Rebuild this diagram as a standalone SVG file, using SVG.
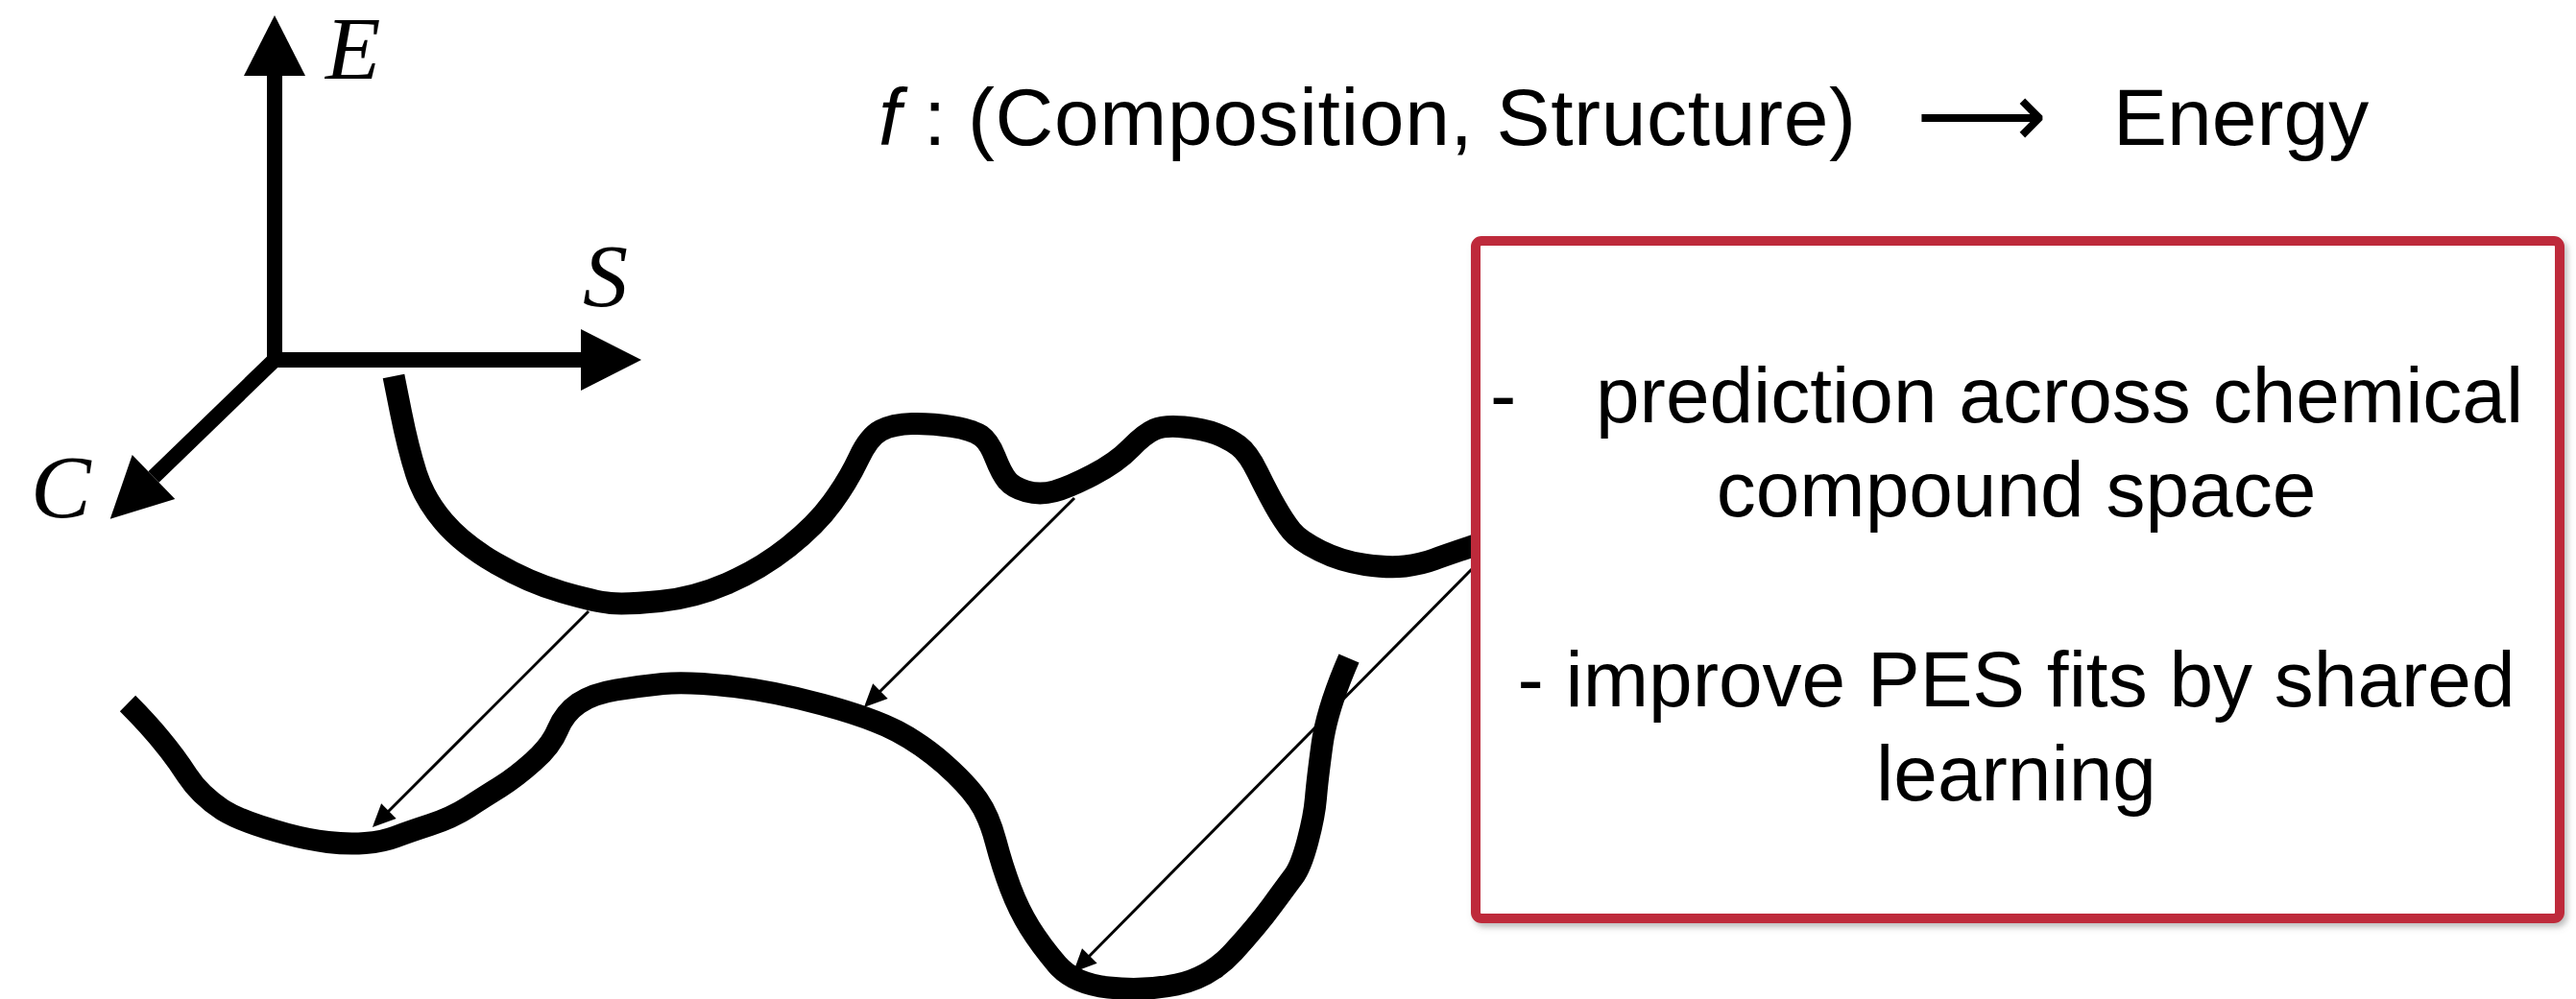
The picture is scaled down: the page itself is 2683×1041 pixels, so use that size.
<svg xmlns="http://www.w3.org/2000/svg" width="2683" height="1041" viewBox="0 0 2683 1041">
  <style>
    .axis { stroke: #000; stroke-width: 16; fill: none; stroke-linecap: butt; }
    .curve { stroke: #000; stroke-width: 23; fill: none; stroke-linecap: butt; stroke-linejoin: round; }
    .thin { stroke: #000; stroke-width: 3; fill: none; }
    .axlabel { font-family: "Liberation Serif", "Times New Roman", serif; font-style: italic; font-size: 94px; fill: #000; }
    .title { font-family: "Liberation Sans", Arial, sans-serif; font-size: 84px; fill: #000; }
    .boxtext { font-family: "Liberation Sans", Arial, sans-serif; font-size: 82px; fill: #000; }
  </style>
  <defs>
    <marker id="axhead" markerUnits="userSpaceOnUse" markerWidth="64" markerHeight="64" refX="0" refY="32" orient="auto" overflow="visible">
      <path d="M0,0 L63,32 L0,64 z" fill="#000"/>
    </marker>
    <marker id="thinhead" markerUnits="userSpaceOnUse" markerWidth="24" markerHeight="22" refX="14" refY="11" orient="auto" overflow="visible">
      <path d="M0,0 L24,11 L0,22 z" fill="#000"/>
    </marker>
    <filter id="shadow" x="-5%" y="-5%" width="110%" height="110%">
      <feDropShadow dx="3" dy="4" stdDeviation="3" flood-color="#777" flood-opacity="0.5"/>
    </filter>
  </defs>
  <rect width="2683" height="1041" fill="#fff"/>

  <g id="axes">
    <line class="axis" x1="286" y1="383" x2="286" y2="79" marker-end="url(#axhead)"/>
    <line class="axis" x1="278" y1="375" x2="605" y2="375" marker-end="url(#axhead)"/>
    <line class="axis" x1="286" y1="375" x2="160" y2="497" marker-end="url(#axhead)"/>
    <text class="axlabel" x="339" y="82">E</text>
    <text class="axlabel" x="607" y="319">S</text>
    <text class="axlabel" x="32" y="539">C</text>
  </g>

  <g id="title">
    <text class="title" x="915" y="151" font-style="italic">f</text>
    <text class="title" x="962" y="151">:</text>
    <text class="title" x="1008" y="151" textLength="925">(Composition, Structure)</text>
    <text x="1996" y="153" font-family="DejaVu Sans, sans-serif" font-size="96" textLength="136" lengthAdjust="spacingAndGlyphs">⟶</text>
    <text class="title" x="2201" y="151">Energy</text>
  </g>

  <g id="curves">
    <path id="upper-surface" class="curve" d="M410,392 L417.5,429.5 Q425,467 433.5,493.5 Q442,520 462,543.5 Q482,567 516.5,587 Q551,607 585.5,617 Q620,627 636,628.5 Q652,630 687.5,626.5 Q723,623 757.5,608 Q792,593 821,570 Q850,547 867,523.5 Q884,500 894.5,477.5 Q905,455 917.5,448.5 Q930,442 950,441.5 Q970,441 991.5,444.5 Q1013,448 1021.5,454 Q1030,460 1036.5,476.5 Q1043,493 1049,500.5 Q1055,508 1069,512 Q1083,516 1098,512 Q1113,508 1138,495 Q1163,482 1177.5,467 Q1192,452 1202.5,447.5 Q1213,443 1233,445 Q1253,447 1266.5,452 Q1280,457 1290,464.5 Q1300,472 1310,492.5 Q1320,513 1328.5,528 Q1337,543 1345,553 Q1353,563 1375,574 Q1397,585 1422,588.5 Q1447,592 1463.5,590 Q1480,588 1493.5,583 Q1507,578 1540,567"/>
    <path id="lower-surface" class="curve" d="M133,733 Q172,772 195,808 Q208,828 232,844 Q253,857 298.5,869 Q321,875 341.5,877.5 Q362,880 380.5,878.5 Q399,877 412,872 Q425,867 448,859.5 Q471,852 488,841 Q505,830 521,820 Q537,810 555.5,793.5 Q574,777 581,760 Q588,743 602.5,733 Q617,723 641.5,719 Q666,715 690.5,712.5 Q715,710 759.5,715 Q804,720 856,734 Q908,748 934.5,762 Q961,776 984,796.5 Q1007,817 1018.5,833.5 Q1030,850 1037,876.5 Q1044,903 1052.5,925.5 Q1061,948 1072.5,966.5 Q1084,985 1101,1005 Q1118,1025 1154.5,1029 Q1191,1033 1225.5,1026 Q1260,1019 1285,991.5 Q1310,964 1325,943.5 Q1340,923 1347.5,913 Q1355,903 1362,876.5 Q1369,850 1370.5,831.5 Q1372,813 1377,776 Q1382,739 1405,686"/>
  </g>

  <g id="connectors">
    <line class="thin" x1="613" y1="637" x2="395" y2="855" marker-end="url(#thinhead)"/>
    <line class="thin" x1="1119" y1="519" x2="907" y2="730" marker-end="url(#thinhead)"/>
    <line class="thin" x1="1533" y1="593" x2="1125" y2="1006" marker-end="url(#thinhead)"/>
  </g>

  <g id="box">
    <rect x="1537" y="251" width="1129" height="706" rx="6" fill="#fff" stroke="#be2a3a" stroke-width="10" filter="url(#shadow)"/>
    <text class="boxtext" y="440"><tspan x="1552">-</tspan><tspan x="1662">prediction across chemical</tspan></text>
    <text class="boxtext" x="2100" y="538" text-anchor="middle">compound space</text>
    <text class="boxtext" x="2100" y="736" text-anchor="middle">- improve PES fits by shared</text>
    <text class="boxtext" x="2100" y="834" text-anchor="middle">learning</text>
  </g>
</svg>
